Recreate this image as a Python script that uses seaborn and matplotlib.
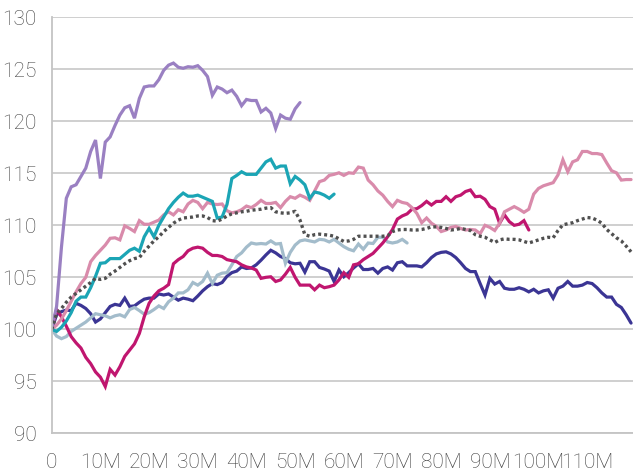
import numpy as np
import pandas as pd
import matplotlib
matplotlib.use("Agg")
import matplotlib.pyplot as plt
import seaborn as sns

# ---------------------------------------------------------------
# Index values per month (start = 100)
# ---------------------------------------------------------------
purple = [100, 102.2, 107.9, 112.6, 113.7, 113.9, 114.7, 115.5, 117.1, 118.2,
          114.5, 118.0, 118.5, 119.6, 120.6, 121.3, 121.5, 120.3, 122.2, 123.3,
          123.4, 123.4, 124.0, 124.9, 125.4, 125.6, 125.2, 125.1, 125.25, 125.2,
          125.35, 124.9, 124.3, 122.5, 123.3, 123.1, 122.75, 123.0, 122.4, 121.5,
          122.1, 122.0, 122.0, 120.9, 121.25, 120.8, 119.3, 120.6, 120.3, 120.2,
          121.2, 121.8]

teal = [100, 99.8, 100.2, 100.8, 101.6, 102.7, 103.1, 103.1, 104.0, 105.1,
        106.35, 106.4, 106.8, 106.8, 106.8, 107.2, 107.6, 107.8, 107.5, 108.9,
        109.7, 108.9, 110.0, 110.8, 111.6, 112.2, 112.7, 113.1, 112.8, 112.8,
        112.9, 112.7, 112.5, 112.3, 110.7, 110.8, 112.0, 114.5, 114.8, 115.15,
        114.9, 114.9, 114.9, 115.5, 116.1, 116.35, 115.5, 115.7, 115.7, 114.0,
        114.7, 114.35, 113.9, 112.6, 113.2, 113.1, 112.9, 112.6, 113.0]

pink = [100, 100.4, 101.0, 101.8, 102.7, 103.6, 104.4, 105.0, 106.5, 107.1,
        107.6, 108.1, 108.75, 108.8, 108.6, 109.95, 109.7, 109.4, 110.45, 110.1,
        110.1, 110.3, 110.5, 111.0, 111.3, 111.0, 111.5, 111.3, 112.05, 112.4,
        112.2, 111.6, 112.2, 112.05, 112.0, 112.05, 111.4, 111.2, 111.3, 111.5,
        111.85, 111.7, 112.0, 112.4, 112.1, 112.1, 112.2, 111.7, 112.3, 112.75,
        112.6, 112.9, 112.7, 112.4, 113.3, 114.2, 114.35, 114.8, 114.9, 115.05,
        114.8, 115.05, 115.0, 115.6, 115.5, 114.35, 113.9, 113.3, 112.9, 112.3,
        111.8, 112.4, 112.2, 112.1, 111.7, 111.15, 110.25, 110.7, 110.2, 109.9,
        109.4, 109.55, 109.8, 109.9, 109.7, 109.55, 109.6, 109.55, 109.2, 110.0,
        109.8, 109.5, 110.2, 111.3, 111.55, 111.8, 111.55, 111.25, 111.55, 113.0,
        113.55, 113.8, 113.95, 114.1, 114.85, 116.3, 115.15, 116.1, 116.3, 117.1,
        117.1, 116.9, 116.9, 116.8, 116.0, 115.25, 115.05, 114.35, 114.4, 114.4]

magenta = [100, 101.9, 101.2, 100.3, 99.3, 98.7, 98.2, 97.3, 96.7, 95.9,
           95.4, 94.5, 96.15, 95.6, 96.4, 97.4, 98.0, 98.6, 99.6, 101.2,
           102.5, 103.2, 103.7, 103.95, 104.3, 106.3, 106.7, 107.0, 107.55, 107.8,
           107.9, 107.8, 107.4, 107.1, 107.1, 107.0, 106.7, 106.6, 106.5, 106.2,
           106.0, 105.9, 105.7, 104.9, 105.0, 105.05, 104.6, 104.75, 105.3, 105.95,
           105.0, 104.25, 104.25, 104.25, 103.8, 104.25, 104.0, 104.1, 104.25, 104.75,
           105.45, 105.0, 106.2, 106.3, 106.7, 107.0, 107.3, 107.8, 108.3, 108.9,
           109.6, 110.6, 110.9, 111.1, 111.55, 111.6, 111.9, 112.3, 111.95, 112.3,
           112.3, 112.75, 112.3, 112.75, 112.9, 113.25, 113.4, 112.75, 112.8, 112.5,
           111.8, 111.55, 110.2, 111.0, 110.35, 110.0, 110.1, 110.45, 109.55]

dark_blue = [100, 101.4, 101.7, 101.85, 101.8, 102.5, 102.3, 102.0, 101.5, 100.7,
             101.0, 101.6, 102.2, 102.4, 102.3, 103.0, 102.2, 102.25, 102.6, 102.9,
             103.0, 103.0, 103.4, 103.3, 103.4, 103.1, 102.8, 103.0, 102.9, 102.75,
             103.2, 103.7, 104.1, 104.4, 104.3, 104.5, 105.1, 105.45, 105.6, 106.0,
             105.85, 105.9, 106.2, 106.65, 107.15, 107.6, 107.35, 107.0, 106.8, 106.4,
             106.3, 106.35, 105.5, 106.5, 106.5, 105.95, 105.8, 105.6, 104.6, 105.7,
             105.05, 105.45, 105.9, 106.3, 105.75, 105.75, 105.85, 105.4, 105.85, 106.0,
             105.7, 106.4, 106.5, 106.1, 106.1, 106.1, 106.0, 106.4, 106.9, 107.25,
             107.4, 107.45, 107.25, 106.9, 106.4, 105.85, 105.55, 105.55, 104.4, 103.3,
             104.9, 104.35, 104.6, 103.95, 103.85, 103.85, 104.0, 103.85, 103.6, 103.85,
             103.5, 103.7, 103.8, 103.0, 103.95, 104.15, 104.6, 104.15, 104.15, 104.25,
             104.5, 104.4, 104.0, 103.5, 103.1, 103.1, 102.4, 102.1, 101.4, 100.6]

grey_blue = [100, 99.35, 99.1, 99.3, 99.8, 100.1, 100.4, 100.7, 101.1, 101.5,
             101.4, 101.3, 101.1, 101.3, 101.4, 101.2, 101.9, 102.1, 101.8, 101.45,
             101.6, 101.9, 102.25, 102.0, 102.65, 103.0, 103.5, 103.5, 103.8, 104.5,
             104.25, 104.6, 105.4, 104.4, 105.2, 105.4, 105.45, 106.2, 107.0, 107.35,
             107.9, 108.3, 108.2, 108.25, 108.2, 108.5, 108.2, 108.25, 106.35, 107.4,
             108.1, 108.5, 108.6, 108.5, 108.4, 108.65, 108.6, 108.4, 108.65, 108.3,
             107.95, 107.7, 107.55, 108.2, 107.7, 108.3, 108.25, 108.85, 108.85, 108.4,
             108.3, 108.4, 108.65, 108.3]

dotted = [100, 101.5, 102.0, 102.6, 103.1, 103.45, 103.8, 104.15, 104.5, 104.9,
          104.8, 104.9, 105.3, 105.6, 105.95, 106.3, 106.6, 106.8, 106.9, 107.5,
          108.0, 108.5, 108.9, 109.4, 109.8, 110.2, 110.5, 110.7, 110.75, 110.8,
          110.9, 110.9, 110.75, 110.45, 110.4, 110.6, 110.9, 111.1, 111.2, 111.3,
          111.35, 111.45, 111.5, 111.55, 111.65, 111.7, 111.3, 111.2, 111.15, 111.2,
          111.35, 110.5, 109.1, 108.95, 109.1, 109.15, 109.1, 109.05, 108.95, 108.7,
          108.45, 108.5, 108.65, 108.95, 108.95, 108.95, 108.95, 108.95, 108.95, 109.0,
          109.4, 109.55, 109.6, 109.6, 109.55, 109.55, 109.6, 109.7, 109.85, 109.85,
          109.8, 109.7, 109.55, 109.6, 109.7, 109.6, 109.5, 109.1, 108.95, 108.85,
          108.6, 108.35, 108.6, 108.7, 108.65, 108.65, 108.6, 108.45, 108.3, 108.45,
          108.6, 108.75, 108.85, 108.8, 109.5, 110.05, 110.15, 110.25, 110.45, 110.6,
          110.75, 110.7, 110.5, 110.2, 109.6, 109.2, 108.8, 108.5, 108.0, 107.45]

x_ticks = list(range(0, 120, 10))
x_labels = ["0"] + [f"{t}M" for t in x_ticks[1:]]
y_ticks = list(range(90, 131, 5))

# ---------------------------------------------------------------
# Figure
# ---------------------------------------------------------------
sns.set_style("white")
plt.rcParams['font.family'] = ['Roboto', 'DejaVu Sans']
plt.rcParams['font.weight'] = 'light'

fig = plt.figure(figsize=(6.33, 4.73), dpi=100)
ax = fig.add_axes([0.0817, 0.0839, 0.9183, 0.8795])

series = [
    (dark_blue, '#3b3594'),
    (grey_blue, '#a3bccb'),
    (magenta, '#c0166f'),
    (pink, '#d98bab'),
    (teal, '#1ba5b5'),
    (purple, '#9a80c2'),
]
for vals, col in series:
    df = pd.DataFrame({'month': np.arange(len(vals)), 'value': vals})
    sns.lineplot(data=df, x='month', y='value', color=col, linewidth=2.3,
                 ax=ax, solid_joinstyle='miter')

df = pd.DataFrame({'month': np.arange(len(dotted)), 'value': dotted})
sns.lineplot(data=df, x='month', y='value', color='#505050', linewidth=2.4,
             ax=ax, linestyle=(0, (0.9, 0.9)), dash_capstyle='butt')

ax.set_xlim(0, 119.4)
ax.set_ylim(90, 130)
ax.set_xticks(x_ticks)
ax.set_xticklabels(x_labels)
ax.set_yticks(y_ticks)
ax.set_xlabel('')
ax.set_ylabel('')

ax.grid(axis='y', color='#cccccc', linewidth=1.3)
ax.grid(axis='x', visible=False)
ax.set_axisbelow(True)
for s in ['top', 'right']:
    ax.spines[s].set_visible(False)
for s in ['left', 'bottom']:
    ax.spines[s].set_color('#c4c4c4')
    ax.spines[s].set_linewidth(1.3)

ax.tick_params(axis='x', length=5, width=1.3, color='#c4c4c4', pad=9,
               labelsize=15, labelcolor='#404040')
ax.tick_params(axis='y', length=0, pad=11, labelsize=15, labelcolor='#404040')

fig.savefig('out.png', dpi=100)
